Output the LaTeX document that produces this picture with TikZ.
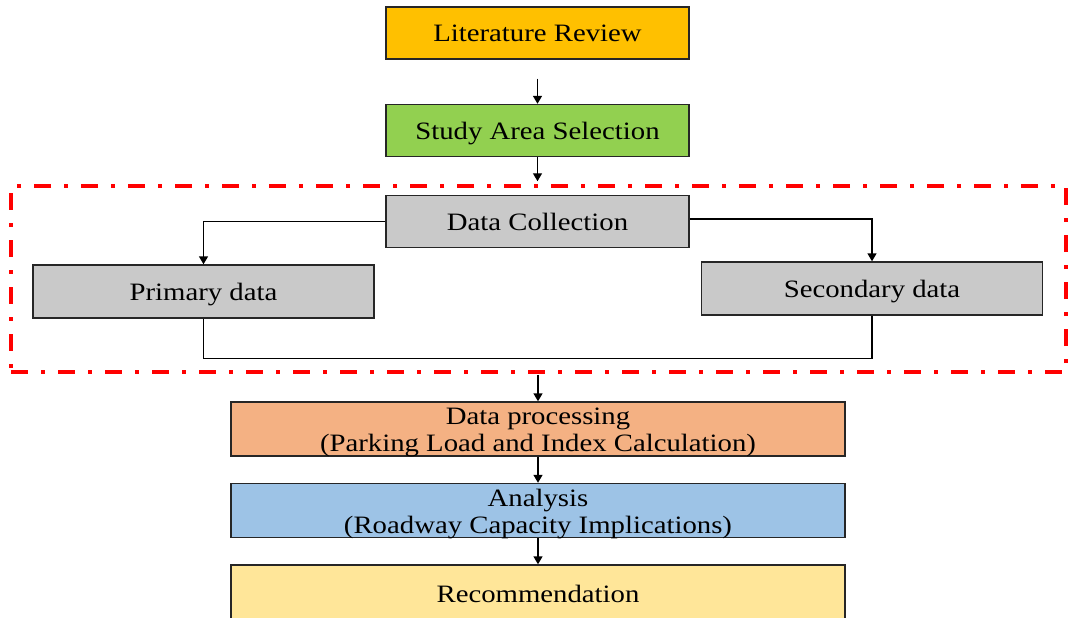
\documentclass[tikz,border=0pt]{standalone}
\usepackage{fontspec}
\setmainfont{Liberation Serif}[FakeStretch=1.15]
\usetikzlibrary{arrows.meta}

\definecolor{litcol}{HTML}{FFC000}
\definecolor{areacol}{HTML}{92D050}
\definecolor{datacol}{HTML}{C9C9C9}
\definecolor{proccol}{HTML}{F4B183}
\definecolor{anacol}{HTML}{9DC3E6}
\definecolor{reccol}{HTML}{FFE699}
\definecolor{edgecol}{HTML}{262626}

\tikzset{
  stagebox/.style={draw=edgecol, line width=1.4pt, rectangle, inner sep=0pt,
    font=\fontsize{25}{27.7}\selectfont, align=center,
    text height=18pt, text depth=0pt},
  wide/.style={stagebox, minimum width=614pt, minimum height=54pt},
  mid/.style={stagebox, minimum width=303pt, minimum height=52pt},
  side/.style={stagebox, fill=datacol, minimum width=341pt, minimum height=53pt},
  arr/.style={line width=1.4pt, -{Triangle[width=9pt,length=8pt]}},
  link/.style={line width=1.4pt},
  groupframe/.style={draw=red, line width=3.5pt, rectangle, inner sep=0pt,
    dash pattern=on 17pt off 13pt on 4pt off 13pt},
  twoline/.style={font=\fontsize{25}{27.7}\selectfont, align=center, inner sep=0pt}
}

\begin{document}
\begin{tikzpicture}[x=1pt, y=-1pt]
  \useasboundingbox (0,0) rectangle (1068,618);

  % main stages
  \node[mid, fill=litcol]  (lit)  at (537.5,33)  {Literature Review};
  \node[mid, fill=areacol] (area) at (537.5,130.5) {Study Area Selection};

  % data collection group
  \node[groupframe, minimum width=1055pt, minimum height=186pt] (frame) at (538.5,279) {};
  \node[mid, fill=datacol] (coll) at (537.5,221.5) {Data Collection};
  \node[side] (prim) at (203.5,291.5) {Primary data};
  \node[side] (sec)  at (872,288.5)   {Secondary data};

  % later stages
  \node[wide, fill=proccol] (proc) at (538,429) {};
  \node[twoline, anchor=center] (proctext) at (538,432.5)
    {Data processing\\(Parking Load and Index Calculation)};
  \node[wide, fill=anacol] (ana) at (538,510.5) {};
  \node[twoline, anchor=center] (anatext) at (538,514)
    {Analysis\\(Roadway Capacity Implications)};
  \node[wide, fill=reccol, minimum height=56pt] (rec) at (538,593) {Recommendation};

  % connectors
  \draw[arr, shorten <=19pt] (lit) -- (area);
  \draw[arr, shorten >=3pt] (area) -- (frame.north -| area);
  \draw[arr] (coll.west) -| (prim.north);
  \draw[arr] (coll.east |- 0,219) -| (sec.north);
  \draw[link] (prim.south) -- ++(0,40) -| (sec.south);
  \draw[arr, shorten <=1pt] (frame.south -| proc) -- (proc);
  \draw[arr] (proc) -- (ana);
  \draw[arr] (ana) -- (rec);
\end{tikzpicture}
\end{document}
